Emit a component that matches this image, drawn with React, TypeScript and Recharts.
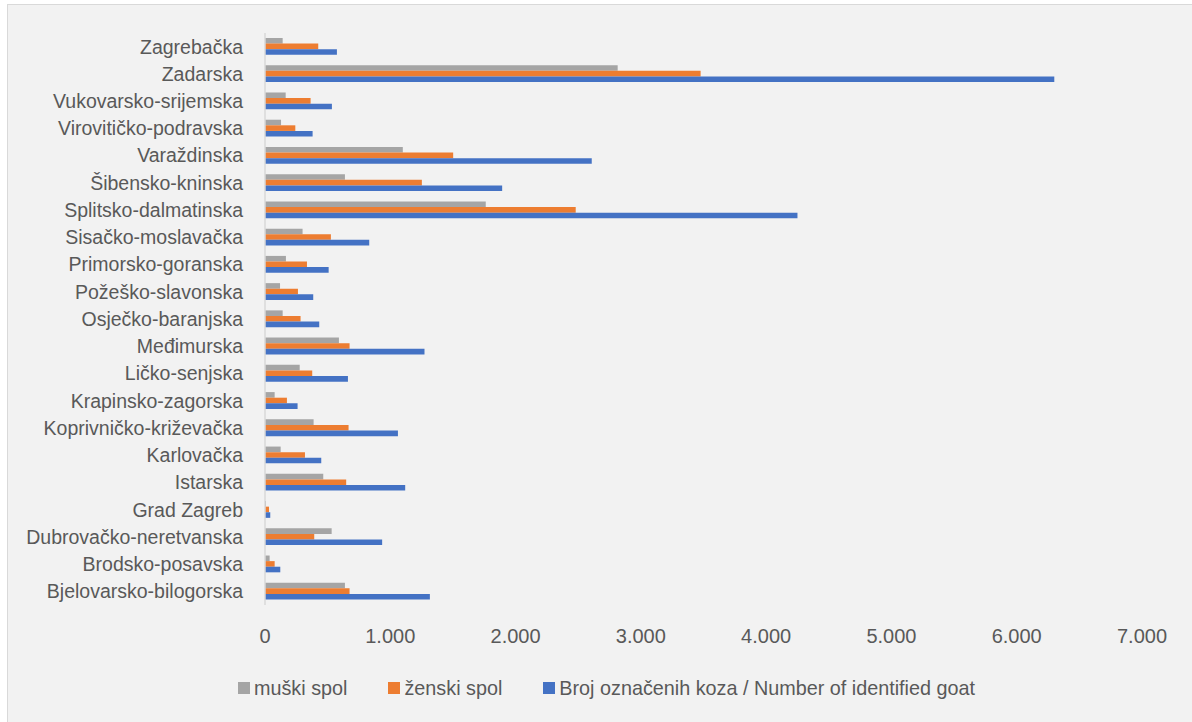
import React from 'react';
import { BarChart, Bar, XAxis, YAxis, Legend } from 'recharts';

const categories = [
  'Zagrebačka', 'Zadarska', 'Vukovarsko-srijemska', 'Virovitičko-podravska', 'Varaždinska',
  'Šibensko-kninska', 'Splitsko-dalmatinska', 'Sisačko-moslavačka', 'Primorsko-goranska',
  'Požeško-slavonska', 'Osječko-baranjska', 'Međimurska', 'Ličko-senjska', 'Krapinsko-zagorska',
  'Koprivničko-križevačka', 'Karlovačka', 'Istarska', 'Grad Zagreb', 'Dubrovačko-neretvanska',
  'Brodsko-posavska', 'Bjelovarsko-bilogorska',
];
const maleValues = [141, 2815, 165, 128, 1100, 638, 1762, 300, 167, 120, 141, 590, 277, 77, 388, 125, 465, 8, 532, 37, 638];
const femaleValues = [425, 3477, 364, 242, 1502, 1252, 2480, 526, 335, 263, 284, 675, 377, 175, 667, 319, 648, 32, 393, 77, 675];
const totalValues = [574, 6300, 534, 380, 2608, 1893, 4250, 832, 508, 385, 433, 1273, 662, 260, 1061, 449, 1119, 42, 935, 122, 1316];
const seriesNames = ['muški spol', 'ženski spol', 'Broj označenih koza / Number of identified goat'];
const xTicks = [0, 1000, 2000, 3000, 4000, 5000, 6000, 7000];

const data = categories.map((c, i) => ({
  name: c,
  male: maleValues[i],
  female: femaleValues[i],
  total: totalValues[i],
}));

const FONT = '"Liberation Sans", Arial, sans-serif';
const TEXT = '#595959';

const fmt = (v: number) => String(v).replace(/\B(?=(\d{3})+(?!\d))/g, '.');

const renderLegend = (props: any) => {
  const payload = [...(props.payload || [])].sort(
    (a: any, b: any) => seriesNames.indexOf(a.value) - seriesNames.indexOf(b.value)
  );
  return (
    <div style={{ display: 'flex', alignItems: 'center', paddingLeft: 238, height: 24, fontFamily: FONT }}>
      {payload.map((p: any, i: number) => (
        <div key={i} style={{ display: 'flex', alignItems: 'center', marginRight: 41 }}>
          <span style={{ display: 'inline-block', width: 12, height: 12, background: p.color, marginRight: 4 }} />
          <span style={{ fontSize: 19.8, color: TEXT, whiteSpace: 'nowrap' }}>{p.value}</span>
        </div>
      ))}
    </div>
  );
};

export default function App() {
  return (
    <div style={{ position: 'fixed', left: 0, top: 0, width: 1192, height: 722, overflow: 'hidden', background: '#fff', fontFamily: FONT }}>
      <div style={{ position: 'absolute', left: 7, top: 4, width: 1200, height: 730, background: '#F2F2F2', border: '1px solid #D9D9D9' }} />
      <div style={{ position: 'absolute', left: 0, top: 0 }}>
        <BarChart
          width={1192}
          height={722}
          layout="vertical"
          data={data}
          margin={{ top: 33, right: 50, bottom: 87, left: 0 }}
          barSize={5.6}
          barGap={0}
        >
          <XAxis
            type="number"
            domain={[0, 7000]}
            ticks={xTicks}
            tickFormatter={fmt}
            axisLine={false}
            tickLine={false}
            tickMargin={18}
            height={30}
            tick={{ fill: TEXT, fontSize: 20, fontFamily: FONT }}
            interval={0}
          />
          <YAxis
            type="category"
            dataKey="name"
            width={265}
            axisLine={{ stroke: '#D9D9D9', strokeWidth: 1.5 }}
            tickLine={false}
            tickMargin={16}
            interval={0}
            tick={{ fill: TEXT, fontSize: 19.5, fontFamily: FONT }}
          />
          <Legend
            layout="horizontal"
            verticalAlign="middle"
            align="center"
            wrapperStyle={{ top: 676, left: 0, width: 1192, height: 24 }}
            content={renderLegend}
          />
          <Bar dataKey="male" name={seriesNames[0]} fill="#A5A5A5" isAnimationActive={false} />
          <Bar dataKey="female" name={seriesNames[1]} fill="#ED7D31" isAnimationActive={false} />
          <Bar dataKey="total" name={seriesNames[2]} fill="#4472C4" isAnimationActive={false} />
        </BarChart>
      </div>
    </div>
  );
}
